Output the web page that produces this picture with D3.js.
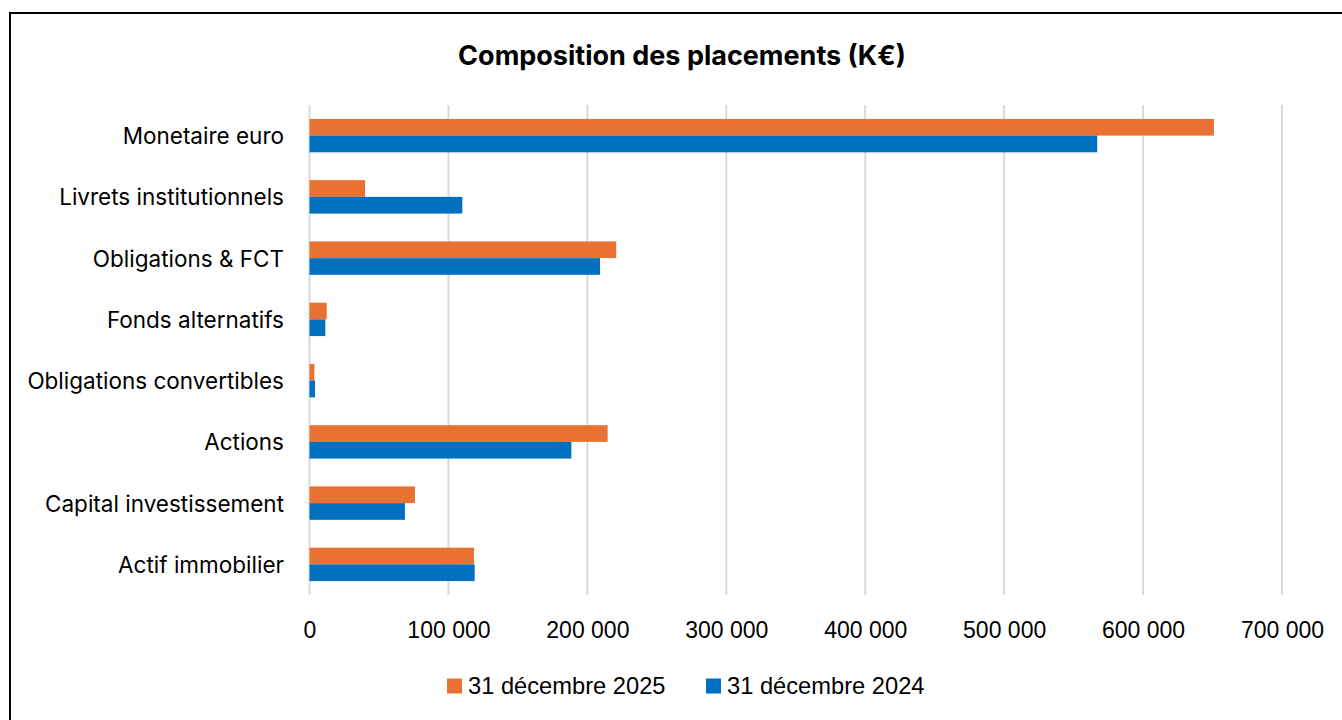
<!DOCTYPE html>
<html>
<head>
<meta charset="utf-8">
<script src="https://cdn.jsdelivr.net/npm/d3@7"></script>
<style>
  body { margin: 0; background: #fff; }
  svg { display: block; }
</style>
</head>
<body>
<svg id="chart" width="1342" height="720"></svg>
<script>
// categories, top to bottom
var categories = [
  "Monetaire euro",
  "Livrets institutionnels",
  "Obligations & FCT",
  "Fonds alternatifs",
  "Obligations convertibles",
  "Actions",
  "Capital investissement",
  "Actif immobilier"
];
var seriesNames = ["31 décembre 2025", "31 décembre 2024"];
var values2025 = [651000, 40000, 220800, 12400, 3500, 214600, 75900, 118400];
var values2024 = [567000, 110000, 209100, 11400, 4000, 188500, 68700, 118900];
var xTicks = [0, 100000, 200000, 300000, 400000, 500000, 600000, 700000];
var colors = ["#E97132", "#0070C0"];

var svg = d3.select("#chart");
var plotLeft = 309.5, plotRight = 1282, plotTop = 105, plotBottom = 595;

// frame
svg.append("rect")
  .attr("x", 10).attr("y", 13)
  .attr("width", 1340).attr("height", 720)
  .attr("fill", "none").attr("stroke", "#000").attr("stroke-width", 2);

svg.append("text")
  .attr("x", 682).attr("y", 55)
  .attr("text-anchor", "middle").attr("dominant-baseline", "central")
  .style("font-family", "Inter, 'Liberation Sans', sans-serif")
  .style("font-weight", "bold").style("font-size", "27px")
  .text("Composition des placements (K€)");

var x = d3.scaleLinear().domain([0, 700000]).range([plotLeft, plotRight]);
var y = d3.scaleBand().domain(categories).range([plotTop, plotBottom]).paddingInner(0.455).paddingOuter(0.2275);
var ySub = d3.scaleBand().domain(seriesNames).range([0, y.bandwidth()]);

// grid
svg.append("g").selectAll("line")
  .data(xTicks).enter().append("line")
  .attr("x1", function (d) { return x(d); })
  .attr("x2", function (d) { return x(d); })
  .attr("y1", plotTop).attr("y2", plotBottom)
  .attr("stroke", "#d9d9d9").attr("stroke-width", 2);

// bars
var rows = categories.map(function (c, i) {
  return { cat: c, vals: [values2025[i], values2024[i]] };
});
var groups = svg.append("g").selectAll("g")
  .data(rows).enter().append("g")
  .attr("transform", function (d) { return "translate(0," + y(d.cat) + ")"; });
groups.selectAll("rect")
  .data(function (d) { return d.vals.map(function (v, j) { return { v: v, s: seriesNames[j], j: j }; }); })
  .enter().append("rect")
  .attr("x", x(0))
  .attr("y", function (d) { return ySub(d.s); })
  .attr("width", function (d) { return x(d.v) - x(0); })
  .attr("height", ySub.bandwidth())
  .attr("fill", function (d) { return colors[d.j]; });

// category labels
svg.append("g").selectAll("text")
  .data(categories).enter().append("text")
  .attr("x", 284)
  .attr("y", function (d) { return y(d) + y.bandwidth() / 2; })
  .attr("text-anchor", "end").attr("dominant-baseline", "central")
  .style("font-family", "Inter, 'Liberation Sans', sans-serif")
  .style("font-size", "22.5px").attr("fill", "#000")
  .text(function (d) { return d; });

// x axis labels
var fmt = function (d) { return d3.format(",")(d).replace(/,/g, " "); };
var xAxis = svg.append("g")
  .attr("transform", "translate(0," + plotBottom + ")")
  .call(d3.axisBottom(x).tickValues(xTicks).tickFormat(fmt).tickSize(0).tickPadding(35));
xAxis.select(".domain").remove();
xAxis.selectAll("text")
  .style("font-family", "'Liberation Sans', Arial, sans-serif")
  .style("font-size", "23px").attr("fill", "#000")
  .attr("dy", null).attr("dominant-baseline", "central");

// legend
var legendItems = [
  { name: seriesNames[0], color: colors[0], x: 447 },
  { name: seriesNames[1], color: colors[1], x: 706 }
];
var lg = svg.append("g").selectAll("g")
  .data(legendItems).enter().append("g")
  .attr("transform", function (d) { return "translate(" + d.x + ",686)"; });
lg.append("rect").attr("x", 0).attr("y", -7.5).attr("width", 15).attr("height", 15)
  .attr("fill", function (d) { return d.color; });
lg.append("text").attr("x", 21).attr("y", 0)
  .attr("dominant-baseline", "central")
  .style("font-family", "'Liberation Sans', Arial, sans-serif")
  .style("font-size", "23.7px").attr("fill", "#000")
  .text(function (d) { return d.name; });
</script>
</body>
</html>
